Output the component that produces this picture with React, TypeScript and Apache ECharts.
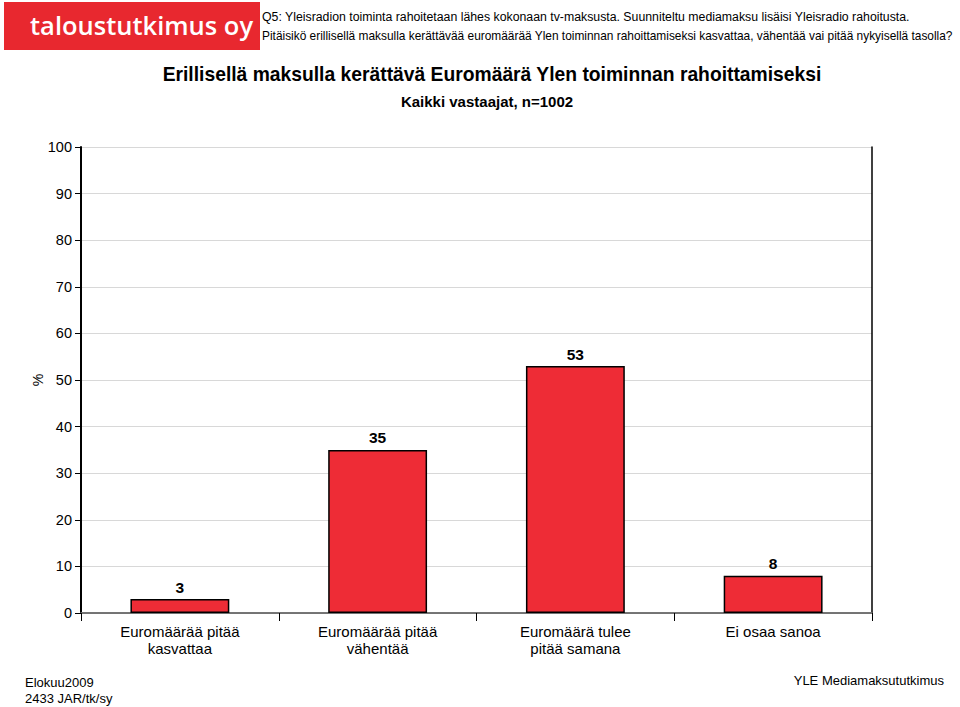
import React, { useEffect, useRef } from "react";
import * as echarts from "echarts";

const categories = [
  "Euromäärää pitää\nkasvattaa",
  "Euromäärää pitää\nvähentää",
  "Euromäärä tulee\npitää samana",
  "Ei osaa sanoa",
];
const values = [3, 35, 53, 8];
const yTicks = { min: 0, max: 100, interval: 10 };

const FONT = "'Liberation Sans', Arial, Helvetica, sans-serif";

export default function App() {
  const ref = useRef<HTMLDivElement>(null);
  useEffect(() => {
    const chart = echarts.init(ref.current!, null, { renderer: "svg" });
    chart.setOption({
      animation: false,
      backgroundColor: "#fff",
      textStyle: { fontFamily: FONT },
      title: [
        {
          text: "Erillisellä maksulla kerättävä Euromäärä Ylen toiminnan rahoittamiseksi",
          left: 487,
          textAlign: "center",
          top: 60,
          textStyle: { fontSize: 19.3, fontWeight: "bold", color: "#000", fontFamily: FONT },
        },
        {
          text: "Kaikki vastaajat, n=1002",
          left: 482,
          textAlign: "center",
          top: 89,
          textStyle: { fontSize: 15, fontWeight: "bold", color: "#000", fontFamily: FONT },
        },
      ],
      graphic: [
        { type: "rect", shape: { x: 4, y: 2, width: 256, height: 48 }, style: { fill: "#E8282F" } },
        {
          type: "text",
          x: 30,
          y: 25,
          style: {
            text: "taloustutkimus oy",
            fill: "#fff",
            font: `600 25.5px 'Open Sans', ${FONT}`,
            verticalAlign: "middle",
          },
        },
        {
          type: "text",
          x: 262,
          y: 11,
          style: {
            text: "Q5: Yleisradion toiminta rahoitetaan lähes kokonaan tv-maksusta. Suunniteltu mediamaksu lisäisi Yleisradio rahoitusta.",
            fill: "#000",
            font: `12.3px ${FONT}`,
          },
        },
        {
          type: "text",
          x: 262,
          y: 30,
          style: {
            text: "Pitäisikö erillisellä maksulla kerättävää euromäärää Ylen toiminnan rahoittamiseksi kasvattaa, vähentää vai pitää nykyisellä tasolla?",
            fill: "#000",
            font: `11.9px ${FONT}`,
          },
        },
        {
          type: "text",
          x: 38,
          y: 380,
          rotation: Math.PI / 2,
          style: { text: "%", fill: "#000", font: `14px ${FONT}`, align: "center", verticalAlign: "middle" },
        },
        {
          type: "text",
          x: 25,
          y: 676,
          style: { text: "Elokuu2009", fill: "#000", font: `13px ${FONT}` },
        },
        {
          type: "text",
          x: 25,
          y: 692,
          style: { text: "2433 JAR/tk/sy", fill: "#000", font: `13px ${FONT}` },
        },
        {
          type: "text",
          x: 944,
          y: 674,
          style: { text: "YLE Mediamaksututkimus", fill: "#000", font: `13px ${FONT}`, align: "right" },
        },
      ],
      grid: { left: 81, right: 88, top: 147, bottom: 94, containLabel: false },
      xAxis: [
        {
          type: "category",
          data: categories,
          boundaryGap: true,
          axisLine: { show: true, lineStyle: { color: "#000", width: 1.5 } },
          axisTick: { show: true, alignWithLabel: false, length: 8, lineStyle: { color: "#000", width: 1 } },
          axisLabel: { color: "#000", fontSize: 15, fontFamily: FONT, margin: 10, lineHeight: 17, interval: 0 },
        },
        {
          type: "category",
          position: "top",
          data: categories,
          axisLine: { show: true, lineStyle: { color: "#888", width: 1.5 } },
          axisTick: { show: false },
          axisLabel: { show: false },
        },
      ],
      yAxis: [
        {
          type: "value",
          min: yTicks.min,
          max: yTicks.max,
          interval: yTicks.interval,
          axisLine: { show: true, lineStyle: { color: "#000", width: 2 } },
          axisTick: { show: true, length: 6, lineStyle: { color: "#000" } },
          axisLabel: { color: "#000", fontSize: 14.5, fontFamily: FONT, margin: 9 },
          splitLine: { show: true, lineStyle: { color: "#d8d8d8", width: 1 } },
        },
        {
          type: "value",
          position: "right",
          min: yTicks.min,
          max: yTicks.max,
          interval: yTicks.interval,
          axisLine: { show: true, lineStyle: { color: "#000", width: 1.5 } },
          axisTick: { show: false },
          axisLabel: { show: false },
          splitLine: { show: false },
        },
      ],
      series: [
        {
          type: "bar",
          data: values,
          barWidth: "50%",
          itemStyle: { color: "#EE2C36", borderColor: "#000", borderWidth: 1.5 },
          label: {
            show: true,
            position: "top",
            distance: 4,
            color: "#000",
            fontSize: 15.5,
            fontWeight: "bold",
            fontFamily: FONT,
          },
        },
      ],
    });
    return () => chart.dispose();
  }, []);
  return <div ref={ref} style={{ width: 960, height: 707, position: "absolute", left: 0, top: 0 }} />;
}
